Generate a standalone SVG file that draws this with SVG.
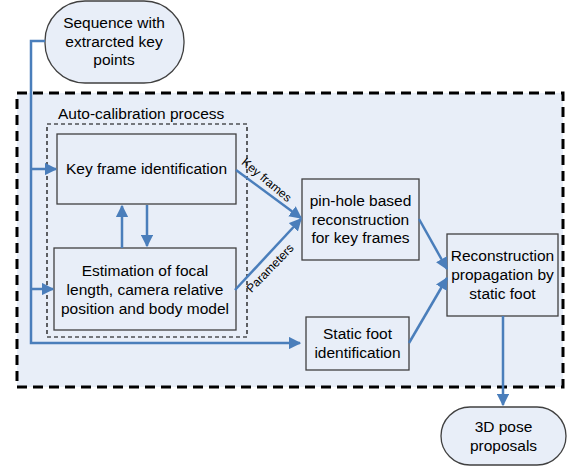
<svg xmlns="http://www.w3.org/2000/svg" width="569" height="466" viewBox="0 0 569 466">
<defs>
<style>
text{font-family:"Liberation Sans",Arial,sans-serif;font-size:15.5px;fill:#000;text-anchor:middle}
.lbl{font-size:12px}
.box{fill:#E8EEF8;stroke:#404040;stroke-width:1.3}
.con{fill:none;stroke:#4A7EBB;stroke-width:2.5}
</style>
<marker id="ah" viewBox="0 0 10 10" refX="9" refY="5" markerWidth="5" markerHeight="5" orient="auto" markerUnits="strokeWidth">
<path d="M0,0 L10,5 L0,10 z" fill="#4A7EBB"/>
</marker>
</defs>
<rect width="569" height="466" fill="#fff"/>
<g id="process">
<rect x="17" y="93" width="546" height="294" fill="#E8EEF8" stroke="#000" stroke-width="3" stroke-dasharray="10,6"/>
</g>
<g id="autocal">
<rect x="47" y="124" width="200" height="213" fill="none" stroke="#000" stroke-width="1.2" stroke-dasharray="4,3"/>
<text x="58" y="119" style="text-anchor:start">Auto-calibration process</text>
</g>
<g id="sequence">
<rect x="45" y="1" width="139" height="82" rx="40" ry="40" class="box"/>
<text x="114" y="28">Sequence with</text>
<text x="114" y="47">extrarcted key</text>
<text x="114" y="65">points</text>
</g>
<g id="keyframe">
<rect x="57" y="134" width="179" height="70" class="box"/>
<text x="146.5" y="174">Key frame identification</text>
</g>
<g id="estimation">
<rect x="54" y="248" width="182" height="82" class="box"/>
<text x="145" y="276">Estimation of focal</text>
<text x="145" y="295">length, camera relative</text>
<text x="145" y="314">position and body model</text>
</g>
<g id="pinhole">
<rect x="302" y="179" width="117" height="81" class="box"/>
<text x="360.5" y="206">pin-hole based</text>
<text x="360.5" y="225">reconstruction</text>
<text x="360.5" y="243">for key frames</text>
</g>
<g id="staticfoot">
<rect x="306" y="317" width="103" height="53" class="box"/>
<text x="357.5" y="339">Static foot</text>
<text x="357.5" y="358">identification</text>
</g>
<g id="propagation">
<rect x="447" y="234" width="111" height="82" class="box"/>
<text x="502.5" y="261">Reconstruction</text>
<text x="502.5" y="280">propagation by</text>
<text x="502.5" y="299">static foot</text>
</g>
<g id="pose">
<rect x="441" y="407" width="125" height="58" rx="29" ry="29" class="box"/>
<text x="503.5" y="432">3D pose</text>
<text x="503.5" y="451">proposals</text>
</g>
<g id="connectors">
<path class="con" d="M45,41 H31 V343 H300" marker-end="url(#ah)"/>
<path class="con" d="M31,169 H56" marker-end="url(#ah)"/>
<path class="con" d="M31,289 H53" marker-end="url(#ah)"/>
<path class="con" d="M122,248 V206" marker-end="url(#ah)"/>
<path class="con" d="M147,205 V246" marker-end="url(#ah)"/>
<path class="con" d="M236,170 L301,218" marker-end="url(#ah)"/>
<path class="con" d="M235,290 L301,219" marker-end="url(#ah)"/>
<path class="con" d="M419,219 L447,269" marker-end="url(#ah)"/>
<path class="con" d="M409,343 L447,278" marker-end="url(#ah)"/>
<path class="con" d="M503,316 V405" marker-end="url(#ah)"/>
<text class="lbl" transform="translate(264,183) rotate(40)">Key frames</text>
<text class="lbl" transform="translate(273,271) rotate(-46)">Parameters</text>
</g>
</svg>
